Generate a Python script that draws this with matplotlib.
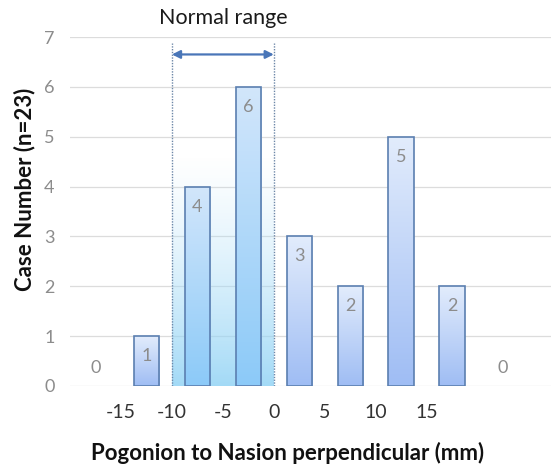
import numpy as np
import matplotlib.pyplot as plt
from matplotlib.colors import to_rgba

plt.rcParams['font.family'] = ['Lato', 'DejaVu Sans']

# histogram bins (5 mm wide), centres and counts
bin_centers = [-17.5, -12.5, -7.5, -2.5, 2.5, 7.5, 12.5, 17.5, 22.5]
counts = [0, 1, 4, 6, 3, 2, 5, 2, 0]
tick_values = [-15, -10, -5, 0, 5, 10, 15]
normal_range = (-10, 0)

fig = plt.figure(figsize=(5.51, 4.75), dpi=100)
ax = fig.add_axes([70 / 551, 89 / 475, 481 / 551, 349 / 475])
ax.set_xlim(-20, 27.2)
ax.set_ylim(0, 7)

for s in ax.spines.values():
    s.set_visible(False)
ax.set_yticks(range(8))
ax.grid(axis='y', color='#dcdcdc', lw=0.9)
ax.set_axisbelow(True)
ax.tick_params(axis='y', length=0, pad=11, labelsize=13, labelcolor='#8c8c8c')
ax.set_xticks(tick_values)
ax.set_xticklabels([str(t) for t in tick_values])
ax.tick_params(axis='x', length=0, pad=13, labelsize=14, labelcolor='#333333')


def vgrad(bottom_c, top_c, n=128):
    b = np.array(to_rgba(bottom_c))
    t = np.array(to_rgba(top_c))
    f = np.linspace(0, 1, n)[:, None]
    return (b * (1 - f) + t * f)[:, None, :]


# shaded normal-range band fading upward
lo, hi = normal_range
band_top = 4.6
band = vgrad((0.55, 0.82, 0.96, 0.8), (0.75, 0.9, 0.98, 0.0))
ax.imshow(band, origin='lower', extent=(lo, hi, 0, band_top), aspect='auto', zorder=1)
for xv in normal_range:
    ax.plot([xv, xv], [0, 6.88], ls=(0, (1, 1)), color='#6d87a8', lw=1.0, zorder=4)

ax.annotate('', xy=(lo, 6.65), xytext=(hi, 6.65),
            arrowprops=dict(arrowstyle='<|-|>', color='#4a76b8', lw=1.6,
                            mutation_scale=12, shrinkA=0, shrinkB=0), zorder=5)
ax.text((lo + hi) / 2, 7.38, 'Normal range', ha='center', va='center',
        fontsize=15.5, color='#1a1a1a', clip_on=False)

bars = ax.bar(bin_centers, counts, width=2.5, facecolor='none',
              edgecolor='#5b7fb0', lw=1.2, zorder=3)
for rect, c, v in zip(bars, bin_centers, counts):
    if v == 0:
        rect.set_visible(False)
        continue
    x0 = rect.get_x()
    if lo < c < hi:
        g = vgrad('#8ccaf8', '#d2e6fb')
    else:
        g = vgrad('#9fbdf4', '#e2ecfc')
    im = ax.imshow(g, origin='lower', extent=(x0, x0 + rect.get_width(), 0, v),
                   aspect='auto', zorder=2)
    im.set_clip_path(rect)

for c, v in zip(bin_centers, counts):
    y = v - 0.4 if v > 0 else 0.36
    ax.text(c, y, str(v), ha='center', va='center', fontsize=13, color='#8c8c8c', zorder=6)

ax.set_xlim(-20, 27.2)
ax.set_ylim(0, 7)

fig.text(25 / 551, 1 - 189 / 475, 'Case Number (n=23)', rotation=90, ha='center',
         va='center', fontsize=16, fontweight='bold', color='#111111')
fig.text(288 / 551, 1 - 453 / 475, 'Pogonion to Nasion perpendicular (mm)', ha='center',
         va='center', fontsize=16, fontweight='bold', color='#111111')

fig.savefig('out.png', dpi=100)
